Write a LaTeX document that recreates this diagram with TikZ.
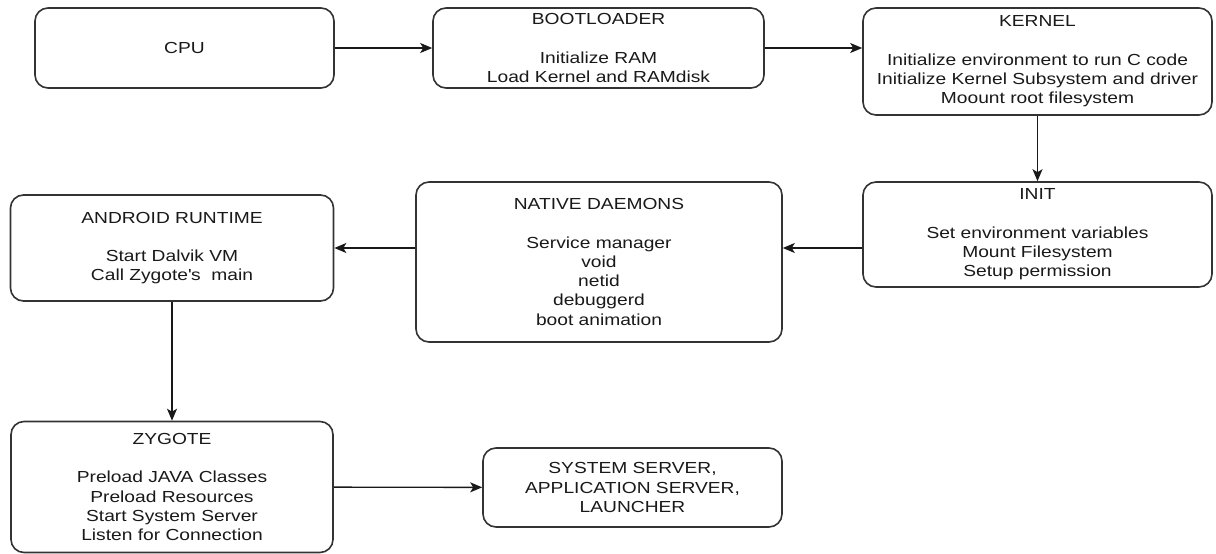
\documentclass[tikz,border=0pt]{standalone}
\usepackage{fontspec}
\setmainfont{Liberation Sans}[FakeStretch=1.2]
\usetikzlibrary{arrows.meta}

\tikzset{
	stage/.style={draw=black!80, line width=1.6pt, rounded corners=13pt, align=center, text=black!90, inner sep=0pt, font=\fontsize{16}{19.2}\selectfont},
	flow/.style={line width=1.4pt, draw=black!90, -{Stealth[length=12pt,width=10pt,inset=3pt]}}
}

\begin{document}
\begin{tikzpicture}[x=1pt, y=-1pt]
			%%%%% START %%%%%
			
			\fill[white] (0, 0) rectangle (1216, 554);
			\useasboundingbox (0, 0) rectangle (1216, 554);
			
			% top row
			\node[stage, minimum width=299pt, minimum height=80pt] (cpu) at (184.5, 48) {CPU};
			\node[stage, minimum width=331pt, minimum height=80pt] (boot) at (598.5, 48) {BOOTLOADER\\[19.2pt]Initialize RAM\\Load Kernel and RAMdisk};
			\node[stage, minimum width=349pt, minimum height=107pt] (kernel) at (1037.5, 61.5) {KERNEL\\[19.2pt]Initialize environment to run C code\\Initialize Kernel Subsystem and driver\\Moount root filesystem};
			
			% middle row
			\node[stage, minimum width=349pt, minimum height=105pt] (init) at (1037.5, 234.5) {INIT\\[19.2pt]Set environment variables\\Mount Filesystem\\Setup permission};
			\node[stage, minimum width=366pt, minimum height=160pt] (native) at (599, 262) {NATIVE DAEMONS\\[19.2pt]Service manager\\void\\netid\\debuggerd\\boot animation};
			\node[stage, minimum width=323pt, minimum height=106pt] (android) at (172, 248) {ANDROID RUNTIME\\[19.2pt]Start Dalvik VM\\Call Zygote\textquotesingle s\ \ main};
			
			% bottom row
			\node[stage, minimum width=322pt, minimum height=131pt] (zygote) at (172, 487) {ZYGOTE\\[19.2pt]Preload JAVA Classes\\Preload Resources\\Start System Server\\Listen for Connection};
			\node[stage, minimum width=299pt, minimum height=79pt] (system) at (632.5, 487.5) {SYSTEM SERVER,\\APPLICATION SERVER,\\LAUNCHER};
			
			% arrows
			\draw[flow] (cpu) -- (boot);
			\draw[flow] (boot.east) -- (boot.east -| kernel.west);
			\draw[flow] (kernel) -- (init);
			\draw[flow] (init.west |- android.east) -- (native.east |- android.east);
			\draw[flow] (native.west |- android.east) -- (android.east);
			\draw[flow] (android) -- (zygote);
			\draw[flow] (zygote) -- (system);
			
			%%%%% END %%%%%
\end{tikzpicture}
\end{document}
